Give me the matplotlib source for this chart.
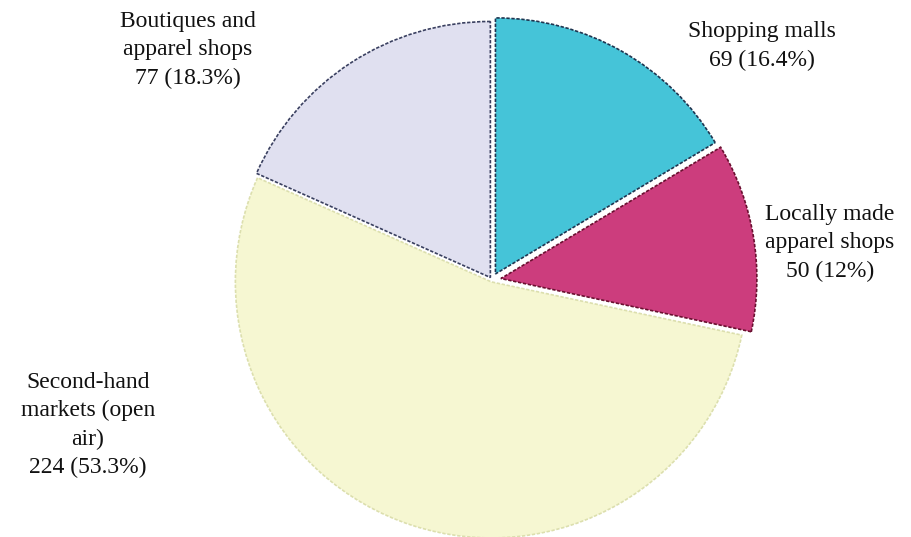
import matplotlib.pyplot as plt

# data
categories = ["Shopping malls", "Locally made\napparel shops",
              "Second-hand\nmarkets (open\nair)", "Boutiques and\napparel shops"]
counts = [69, 50, 224, 77]
pct_labels = ["16.4%", "12%", "53.3%", "18.3%"]
colors = ["#45c4d8", "#cc3d7d", "#f6f7d2", "#e0e0f0"]
edge_colors = ["#1f3550", "#6a1030", "#dcdfae", "#3a4060"]

# where each label sits (pixel coords of the 911x537 canvas, y from top)
label_pos = [(762, 46), (830, 243), (88, 425), (188, 50)]

plt.rcParams["font.family"] = ["Liberation Serif", "DejaVu Serif"]

W, H = 911, 537
fig = plt.figure(figsize=(W / 100, H / 100), dpi=100)
ax = fig.add_axes([0, 0, 1, 1])

cx, cy, R = 492, H - 280, 256
wedges, _ = ax.pie(counts, colors=colors, startangle=90, counterclock=False,
                   center=(cx, cy), radius=R, explode=[7, 9, 2, 3],
                   frame=True,
                   wedgeprops=dict(linewidth=1.2, linestyle=(0, (2, 1))))
for w, ec in zip(wedges, edge_colors):
    w.set_edgecolor(ec)
ax.set_xlim(0, W)
ax.set_ylim(0, H)
ax.set_aspect("equal")
ax.axis("off")

for name, n, p, (x, y) in zip(categories, counts, pct_labels, label_pos):
    ax.text(x, H - y, f"{name}\n{n} ({p})", ha="center", va="center",
            fontsize=17, color="#111111", linespacing=1.45)

fig.savefig("out.png", dpi=100)
